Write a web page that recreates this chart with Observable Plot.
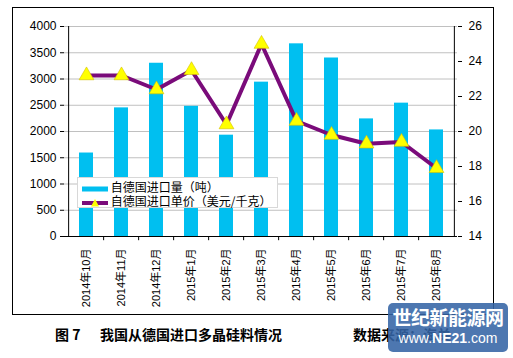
<!DOCTYPE html>
<html><head><meta charset="utf-8">
<script src="https://cdn.jsdelivr.net/npm/d3@7"></script>
<script src="https://cdn.jsdelivr.net/npm/@observablehq/plot@0.6"></script>
<style>
body{margin:0;background:#fff;width:513px;height:358px;overflow:hidden;position:relative;font-family:"Liberation Sans","Noto Sans CJK SC",sans-serif;color:#000}
#frame{position:absolute;left:12px;top:7px;width:482px;height:308px;border:1px solid #000;box-sizing:border-box}
#chart{position:absolute;left:0;top:0}
#legend{position:absolute;left:77px;top:177px;width:201px;height:31px;background:#fff;border:1px solid #d8d8d8;box-sizing:border-box;font-size:12px;font-family:"Noto Sans CJK SC",sans-serif}
#legend .row{position:absolute;left:4px;height:15px;line-height:15px;white-space:nowrap}
#legend svg{vertical-align:middle}
.cap{position:absolute;top:324px;font-size:14px;font-weight:bold;font-family:"Noto Sans CJK SC",sans-serif;white-space:nowrap}
#wm{position:absolute;left:388px;top:303px;width:120px;height:49px;background:rgba(52,100,165,0.88);border-radius:5px;color:#fff;text-align:center}
#wm .a{font-size:19px;font-weight:bold;line-height:24px;margin-top:2px;font-family:"Noto Sans CJK SC",sans-serif;letter-spacing:-0.5px}
#wm .b{font-size:14px;line-height:18px;font-family:"Liberation Sans",sans-serif}
</style></head>
<body>
<div id="chart"></div>
<div id="frame"></div>
<div id="legend"></div>
<div class="cap" style="left:55px">图 7</div>
<div class="cap" style="left:100px">我国从德国进口多晶硅料情况</div>
<div class="cap" style="left:353px">数据来源：海关</div>
<div id="wm"><div class="a">世纪新能源网</div><div class="b">www.<b>NE21</b>.com</div></div>
<script>
const months = ["2014年10月","2014年11月","2014年12月","2015年1月","2015年2月","2015年3月","2015年4月","2015年5月","2015年6月","2015年7月","2015年8月"];
const volume = [1590,2450,3300,2480,1930,2940,3670,3400,2240,2540,2030];
const price = [23.2,23.2,22.4,23.5,20.4,25.0,20.6,19.8,19.3,19.4,17.9];
const leftTicks = [0,500,1000,1500,2000,2500,3000,3500,4000];
const rightTicks = [14,16,18,20,22,24,26];
const seriesNames = ["自德国进口量（吨）","自德国进口单价（美元/千克）"];

const barColor = "#00bff0", lineColor = "#7a0b7a", markColor = "#ffff00";
const data = months.map((m,i)=>({month:m, volume:volume[i], price:price[i]}));
const pMin = 14, pMax = 26, vMax = 4000;
const toY = p => (p-pMin)/(pMax-pMin)*vMax;
const W = 513, ML = 64, MR = 56;
const step = (W-ML-MR)/months.length;

const chart = Plot.plot({
  width: W, height: 317,
  marginLeft: ML, marginRight: MR, marginTop: 26, marginBottom: 81,
  x: {domain: months, paddingInner: 0.6, paddingOuter: 0.3, label: null},
  y: {domain: [0, vMax], label: null},
  style: {fontFamily: '"Liberation Sans","Noto Sans CJK SC",sans-serif', fontSize: "12px", background: "transparent", color: "#000"},
  marks: [
    Plot.gridY(leftTicks, {stroke: "#c0c0c0", strokeOpacity: 1}),
    Plot.barY(data, {x: "month", y: "volume", fill: barColor}),
    Plot.ruleY([0], {stroke: "#000"}),
    Plot.ruleX([months[0]], {x: d=>d, y1: 0, y2: vMax, dx: -step/2, stroke: "#000"}),
    Plot.ruleX([months[months.length-1]], {x: d=>d, y1: 0, y2: vMax, dx: step/2, stroke: "#000"}),
    Plot.ruleX(months.slice(1), {x: d=>d, y1: 0, y2: -80, dx: -step/2, stroke: "#000"}),
    Plot.line(data, {x: "month", y: d=>toY(d.price), stroke: lineColor, strokeWidth: 4}),
    Plot.dot(data, {x: "month", y: d=>toY(d.price), symbol: "triangle", fill: markColor, stroke: "#d4c000", strokeWidth: 0.6, r: 5.5}),
    Plot.axisY(leftTicks, {anchor: "left", label: null, tickSize: 4, tickPadding: 4, fontSize: 12, tickFormat: v => String(v)}),
    Plot.axisY(rightTicks.map(toY), {anchor: "right", label: null, tickSize: 4, tickPadding: 7, fontSize: 12,
      tickFormat: v => String(Math.round(v/vMax*(pMax-pMin)+pMin))}),
    Plot.axisX({label: null, tickRotate: -90, tickSize: 0, tickPadding: 12, fontSize: 11})
  ]
});
document.getElementById("chart").appendChild(chart);

const lg = document.getElementById("legend");
lg.innerHTML =
  `<div class="row" style="top:1px"><svg width="26" height="12"><rect x="0" y="3.5" width="26" height="5" fill="${barColor}"/></svg> ${seriesNames[0]}</div>` +
  `<div class="row" style="top:15px"><svg width="26" height="12"><line x1="0" x2="26" y1="6" y2="6" stroke="${lineColor}" stroke-width="4"/><path d="M13,2 L17,9.5 L9,9.5 Z" fill="${markColor}"/></svg> ${seriesNames[1]}</div>`;
</script>
</body></html>
